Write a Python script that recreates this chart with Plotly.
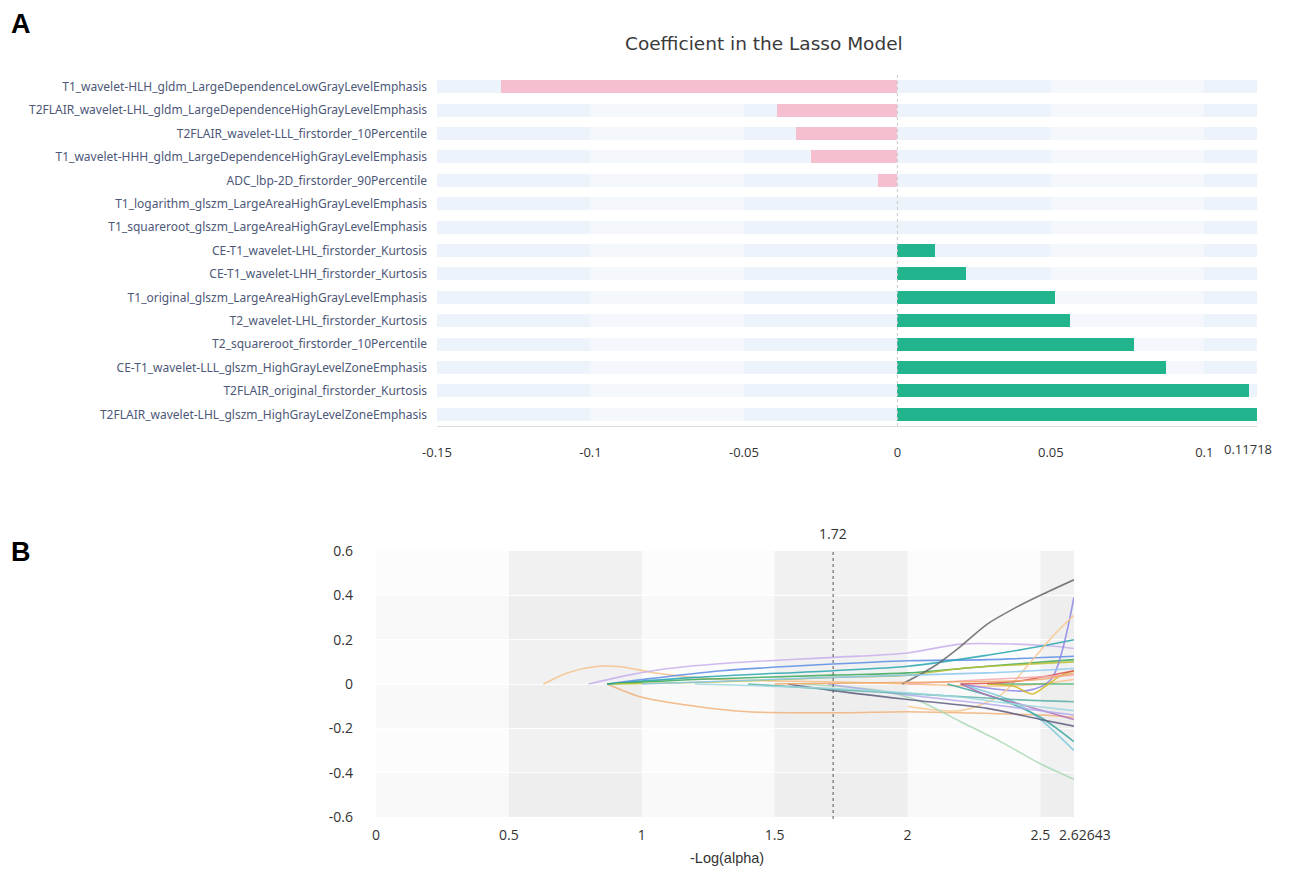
import plotly.graph_objects as go

# ---------------- Panel A data ----------------
features = [
    "T1_wavelet-HLH_gldm_LargeDependenceLowGrayLevelEmphasis",
    "T2FLAIR_wavelet-LHL_gldm_LargeDependenceHighGrayLevelEmphasis",
    "T2FLAIR_wavelet-LLL_firstorder_10Percentile",
    "T1_wavelet-HHH_gldm_LargeDependenceHighGrayLevelEmphasis",
    "ADC_lbp-2D_firstorder_90Percentile",
    "T1_logarithm_glszm_LargeAreaHighGrayLevelEmphasis",
    "T1_squareroot_glszm_LargeAreaHighGrayLevelEmphasis",
    "CE-T1_wavelet-LHL_firstorder_Kurtosis",
    "CE-T1_wavelet-LHH_firstorder_Kurtosis",
    "T1_original_glszm_LargeAreaHighGrayLevelEmphasis",
    "T2_wavelet-LHL_firstorder_Kurtosis",
    "T2_squareroot_firstorder_10Percentile",
    "CE-T1_wavelet-LLL_glszm_HighGrayLevelZoneEmphasis",
    "T2FLAIR_original_firstorder_Kurtosis",
    "T2FLAIR_wavelet-LHL_glszm_HighGrayLevelZoneEmphasis",
]
coefficients = [-0.129, -0.0392, -0.033, -0.0281, -0.0062, 0.0, 0.0,
                0.0124, 0.0225, 0.0513, 0.0562, 0.0771, 0.0876, 0.1147, 0.11718]
a_tickvals = [-0.15, -0.1, -0.05, 0, 0.05, 0.1, 0.11718]
a_ticktext = ["-0.15", "-0.1", "-0.05", "0", "0.05", "0.1", "0.11718"]

# ---------------- Panel B data (lasso paths) ----------------
b_tickvals = [0, 0.5, 1, 1.5, 2, 2.5, 2.62643]
b_ticktext = ["0", "0.5", "1", "1.5", "2", "2.5", "2.62643"]
b_yticks = [-0.6, -0.4, -0.2, 0, 0.2, 0.4, 0.6]
best_log_alpha = 1.72

p01_x = [0.63, 0.72, 0.82, 0.92, 1.05, 1.3, 1.72, 2.0, 2.3, 2.5, 2.626]
p01_y = [0.0, 0.05, 0.078, 0.078, 0.05, 0.02, 0.01, 0.0, -0.01, 0.0, 0.02]
p02_x = [0.87, 1.0, 1.2, 1.4, 1.72, 2.0, 2.2, 2.5, 2.626]
p02_y = [0.0, -0.06, -0.10, -0.125, -0.13, -0.125, -0.13, -0.14, -0.15]
p03_x = [0.8, 0.95, 1.1, 1.33, 1.72, 2.0, 2.2, 2.4, 2.55, 2.626]
p03_y = [0.0, 0.04, 0.07, 0.095, 0.12, 0.14, 0.18, 0.18, 0.17, 0.16]
p04_x = [0.87, 1.0, 1.3, 1.72, 2.0, 2.3, 2.626]
p04_y = [0.0, 0.02, 0.06, 0.09, 0.105, 0.11, 0.125]
p05_x = [0.87, 1.2, 1.72, 2.0, 2.3, 2.5, 2.626]
p05_y = [0.0, 0.03, 0.06, 0.08, 0.13, 0.17, 0.20]
p06_x = [0.87, 1.2, 1.72, 2.0, 2.3, 2.626]
p06_y = [0.0, 0.02, 0.04, 0.05, 0.08, 0.11]
p07_x = [0.9, 1.3, 1.72, 2.0, 2.2, 2.626]
p07_y = [0.0, 0.01, 0.03, 0.04, 0.07, 0.10]
p08_x = [1.98, 2.1, 2.2, 2.3, 2.4, 2.5, 2.626]
p08_y = [0.0, 0.08, 0.17, 0.27, 0.34, 0.40, 0.47]
p09_x = [2.2, 2.45, 2.54, 2.626]
p09_y = [0.0, -0.03, 0.02, 0.39]
p10_x = [2.0, 2.2, 2.35, 2.45, 2.55, 2.626]
p10_y = [-0.1, -0.12, -0.05, 0.08, 0.22, 0.31]
p11_x = [1.6, 1.9, 2.05, 2.2, 2.35, 2.5, 2.626]
p11_y = [0.0, -0.03, -0.08, -0.17, -0.26, -0.36, -0.43]
p12_x = [2.2, 2.4, 2.5, 2.626]
p12_y = [0.0, -0.08, -0.16, -0.30]
p13_x = [2.15, 2.35, 2.5, 2.626]
p13_y = [0.0, -0.07, -0.15, -0.26]
p14_x = [1.55, 1.72, 2.0, 2.3, 2.5, 2.626]
p14_y = [0.0, -0.03, -0.07, -0.11, -0.16, -0.19]
p15_x = [2.2, 2.3, 2.45, 2.626]
p15_y = [0.0, -0.05, -0.10, -0.16]
p16_x = [1.7, 2.0, 2.3, 2.626]
p16_y = [0.0, -0.05, -0.09, -0.14]
p17_x = [1.4, 1.8, 2.1, 2.4, 2.626]
p17_y = [0.0, -0.03, -0.05, -0.07, -0.08]
p18_x = [2.3, 2.45, 2.626]
p18_y = [0.0, 0.0, 0.0]
p19_x = [2.3, 2.4, 2.47, 2.53, 2.58, 2.626]
p19_y = [0.0, -0.01, -0.045, 0.0, 0.04, 0.06]
p20_x = [2.2, 2.4, 2.5, 2.626]
p20_y = [0.0, 0.01, 0.03, 0.06]
p21_x = [2.0, 2.3, 2.626]
p21_y = [0.0, 0.02, 0.04]
p22_x = [1.0, 1.72, 2.3, 2.626]
p22_y = [0.0, 0.03, 0.05, 0.07]
p23_x = [1.5, 2.2, 2.5, 2.626]
p23_y = [0.0, 0.01, 0.02, 0.05]
p24_x = [1.2, 1.72, 2.0, 2.2, 2.4, 2.626]
p24_y = [0.0, -0.02, -0.04, -0.06, -0.09, -0.12]

paths_x = [p01_x, p02_x, p03_x, p04_x, p05_x, p06_x, p07_x, p08_x, p09_x, p10_x, p11_x, p12_x,
           p13_x, p14_x, p15_x, p16_x, p17_x, p18_x, p19_x, p20_x, p21_x, p22_x, p23_x, p24_x]
paths_y = [p01_y, p02_y, p03_y, p04_y, p05_y, p06_y, p07_y, p08_y, p09_y, p10_y, p11_y, p12_y,
           p13_y, p14_y, p15_y, p16_y, p17_y, p18_y, p19_y, p20_y, p21_y, p22_y, p23_y, p24_y]
path_colors = ["#f7c08a", "#f2b27a", "#c8b0ec", "#5a8de6", "#26a6b0", "#3aa85a", "#b8c030",
               "#666666", "#8c84e8", "#f8c98e", "#a9dab5", "#79c9dc", "#3aa7a0", "#5c5c80",
               "#b070b8", "#b4a8ee", "#5bb0a8", "#48b070", "#d2b820", "#e05050", "#f4a8a8",
               "#8cc8f0", "#f0a868", "#9fd8e0"]

# page body has an 8px margin; size the figure to fit the window exactly
OFF = 8
W, H = 1292 - 2 * OFF, 877 - 2 * OFF


def px(x):
    return (x - OFF) / W


def py(y):
    return 1 - (y - OFF) / H


fig = go.Figure()

# ---- Panel A background row bands, split by tick columns ----
for i in range(len(a_tickvals) - 1):
    lo, hi = a_tickvals[i], a_tickvals[i + 1]
    col = "#f4f7fc" if i in (1, 4) else "#edf3fb"
    fig.add_trace(go.Bar(
        y=features, x=[hi - lo] * len(features), base=[lo] * len(features),
        orientation="h", marker=dict(color=col, line_width=0), width=0.56,
        hoverinfo="skip", showlegend=False, xaxis="x", yaxis="y"))

bar_colors = ["#f5bfd0" if v < 0 else "#22b48d" for v in coefficients]
fig.add_trace(go.Bar(
    y=features, x=coefficients, orientation="h",
    marker=dict(color=bar_colors, line_width=0), width=0.56,
    showlegend=False, xaxis="x", yaxis="y"))

# ---- Panel B lines ----
for xs, ys, c in zip(paths_x, paths_y, path_colors):
    fig.add_trace(go.Scatter(
        x=xs, y=ys, mode="lines", line=dict(color=c, width=1.6, shape="spline", smoothing=0.8),
        opacity=0.85, showlegend=False, xaxis="x2", yaxis="y2", hoverinfo="skip"))

shapes = []
# zero dotted line, panel A
shapes.append(dict(type="line", xref="x", yref="paper", x0=0, x1=0,
                   y0=py(426), y1=py(72),
                   line=dict(color="#c8c8c8", width=1, dash="dot"), layer="above"))
# panel B background checkerboard
for i in range(len(b_tickvals) - 1):
    if i % 2 == 1:
        shapes.append(dict(type="rect", xref="x2", yref="y2",
                           x0=b_tickvals[i], x1=b_tickvals[i + 1], y0=-0.6, y1=0.6,
                           fillcolor="rgba(0,0,0,0.045)", line_width=0, layer="below"))
for j in range(len(b_yticks) - 1):
    shapes.append(dict(type="rect", xref="x2", yref="y2",
                       x0=0, x1=b_tickvals[-1], y0=b_yticks[j], y1=b_yticks[j + 1],
                       fillcolor="rgba(0,0,0,0.012)" if j % 2 == 1 else "rgba(0,0,0,0.025)",
                       line_width=0, layer="below"))
# best alpha line
shapes.append(dict(type="line", xref="x2", yref="paper", x0=best_log_alpha, x1=best_log_alpha,
                   y0=py(819), y1=py(549), line=dict(color="#555555", width=1, dash="dot"),
                   layer="above"))

annotations = [
    dict(text="<b>A</b>", x=px(9), y=py(24), xref="paper", yref="paper",
         showarrow=False, xanchor="left", yanchor="middle",
         font=dict(family="Liberation Sans, Arial", size=27, color="#000")),
    dict(text="<b>B</b>", x=px(9), y=py(552), xref="paper", yref="paper",
         showarrow=False, xanchor="left", yanchor="middle",
         font=dict(family="Liberation Sans, Arial", size=27, color="#000")),
    dict(text="Coefficient in the Lasso Model", x=px(764), y=py(43),
         xref="paper", yref="paper", showarrow=False, xanchor="center", yanchor="middle",
         font=dict(family="DejaVu Sans", size=18.5, color="#3a3a3a")),
    dict(text=f"{best_log_alpha:g}", x=best_log_alpha, y=py(533), xref="x2", yref="paper",
         showarrow=False, xanchor="center", yanchor="middle",
         font=dict(family="Open Sans", size=14, color="#333")),
    dict(text="-Log(alpha)", x=px(727), y=py(858), xref="paper", yref="paper",
         showarrow=False, xanchor="center", yanchor="middle",
         font=dict(family="Liberation Sans, Arial", size=14.5, color="#333")),
    # end-of-range tick labels, offset as in the original
    dict(text=a_ticktext[-1], x=a_tickvals[-1], y=py(449), xref="x", yref="paper",
         showarrow=False, xanchor="center", yanchor="middle", xshift=-9,
         font=dict(family="Open Sans", size=13, color="#333")),
    dict(text=b_ticktext[-1], x=b_tickvals[-1], y=py(834), xref="x2", yref="paper",
         showarrow=False, xanchor="left", yanchor="middle", xshift=-17,
         font=dict(family="Open Sans", size=14, color="#333")),
]

fig.update_layout(
    width=W, height=H, margin=dict(l=0, r=0, t=0, b=0, autoexpand=False),
    paper_bgcolor="white", plot_bgcolor="rgba(0,0,0,0)",
    barmode="overlay", bargap=0,
    shapes=shapes, annotations=annotations,
    xaxis=dict(domain=[px(437), px(1257)], range=[-0.15, 0.11718], automargin=False,
               tickvals=a_tickvals[:-1], ticktext=a_ticktext[:-1],
               showgrid=False, zeroline=False,
               showline=True, linecolor="#dcdcdc", linewidth=1, ticks="", tickangle=0,
               ticklabelstandoff=14,
               tickfont=dict(family="Open Sans", size=13, color="#333")),
    yaxis=dict(domain=[py(426), py(75)], autorange="reversed", automargin=False,
               categoryorder="array", categoryarray=features,
               showgrid=False, zeroline=False, showline=False, ticks="",
               ticklabelstandoff=9,
               tickfont=dict(family="Noto Sans", size=12, color="#4d5878")),
    xaxis2=dict(domain=[px(376), px(1074)], range=[0, b_tickvals[-1]], anchor="y2",
                automargin=False, tickangle=0,
                tickvals=b_tickvals[:-1], ticktext=b_ticktext[:-1],
                showgrid=False, zeroline=False,
                showline=False, ticks="", ticklabelstandoff=8,
                tickfont=dict(family="Open Sans", size=14, color="#333")),
    yaxis2=dict(domain=[py(817), py(551)], range=[-0.6, 0.6], anchor="x2",
                automargin=False,
                tickvals=b_yticks, ticktext=[f"{v:g}" for v in b_yticks],
                showgrid=True, gridcolor="rgba(255,255,255,0.9)", gridwidth=1,
                zeroline=False, showline=False, ticks="", ticklabelstandoff=22,
                tickfont=dict(family="Open Sans", size=14, color="#333")),
)

fig.write_html("out.html")
